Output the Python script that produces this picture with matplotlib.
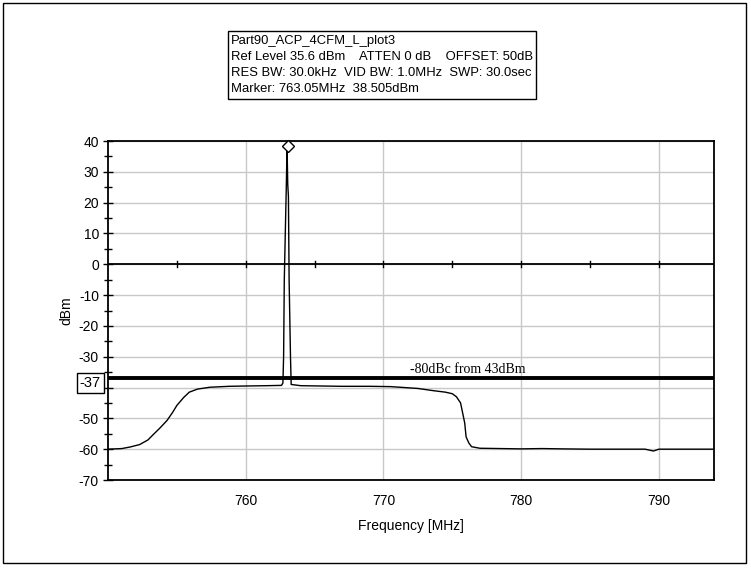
import matplotlib
matplotlib.use("Agg")
import matplotlib.pyplot as plt
from matplotlib.patches import Rectangle

# trace (MHz, dBm)
FREQ = [750.0, 751.0, 751.6, 752.3, 752.9, 753.3, 753.8, 754.3, 754.7, 755.0,
        755.5, 755.9, 756.5, 757.4, 758.8, 760.0, 761.5, 762.6, 762.7, 762.75,
        762.8, 762.95, 763.0, 763.05, 763.1, 763.15, 763.25, 763.3, 764.0, 765.5,
        767.0, 769.0, 770.5, 771.2, 772.5, 773.6, 774.5, 775.0, 775.3, 775.6,
        775.9, 776.0, 776.2, 776.4, 777.0, 778.5, 780.0, 781.5, 783.0, 785.0,
        787.0, 789.0, 789.6, 790.0, 792.0, 794.0]
LEVEL = [-60.0, -59.8, -59.3, -58.5, -57.0, -55.2, -53.0, -50.6, -48.0, -45.8,
         -43.2, -41.5, -40.5, -39.9, -39.6, -39.5, -39.4, -39.3, -38.5, -30.0,
         -5.0, 26.0, 38.5, 26.0, 22.0, -5.0, -30.0, -39.0, -39.4, -39.5,
         -39.6, -39.6, -39.7, -39.9, -40.3, -41.0, -41.5, -42.0, -43.0, -45.0,
         -51.5, -56.0, -58.0, -59.2, -59.7, -59.8, -59.9, -59.8, -59.9, -60.0,
         -60.0, -60.0, -60.6, -60.0, -60.0, -60.0]

MARKER_F, MARKER_DB = 763.05, 38.505
LIMIT_DB = -37
LIMIT_LABEL = "-80dBc from 43dBm"
INFO_LINES = [
    "Part90_ACP_4CFM_L_plot3",
    "Ref Level 35.6 dBm    ATTEN 0 dB    OFFSET: 50dB",
    "RES BW: 30.0kHz  VID BW: 1.0MHz  SWP: 30.0sec",
    "Marker: 763.05MHz  38.505dBm",
]
XTICKS = [760, 770, 780, 790]
YTICKS = list(range(-70, 41, 10))

plt.rcParams.update({
    "font.family": ["Liberation Sans", "DejaVu Sans"],
    "font.size": 10,
    "axes.unicode_minus": False,
})

fig = plt.figure(figsize=(7.51, 5.70), dpi=100)
ax = fig.add_axes([108 / 751, 90 / 570, 606 / 751, 339 / 570])

# outer frame around the whole window
fig.patches.append(Rectangle((0.004, 0.012), 0.99, 0.982, transform=fig.transFigure,
                             fill=False, ec="black", lw=1.0))

ax.set_xlim(750, 794)
ax.set_ylim(-70, 40)
ax.set_xticks(XTICKS)
ax.set_yticks(YTICKS)
ax.set_yticks(range(-65, 40, 10), minor=True)
ax.grid(True, color="#c8c8c8", lw=1.0)
ax.set_axisbelow(True)
ax.tick_params(axis="x", length=0, pad=10, labelsize=10)
ax.tick_params(axis="y", which="major", direction="inout", length=7, width=1, pad=3,
               labelsize=10)
ax.tick_params(axis="y", which="minor", direction="inout", length=6, width=1)
for s in ax.spines.values():
    s.set_linewidth(1.3)

# zero line with 5 MHz ticks
ax.axhline(0, color="black", lw=1.3, zorder=2)
for f in range(755, 794, 5):
    ax.plot([f, f], [-0.9, 0.9], color="black", lw=1.0, zorder=2)

# limit line
ax.axhline(LIMIT_DB, color="black", lw=2.8, zorder=3)
ax.text(780.3, LIMIT_DB + 0.9, LIMIT_LABEL, family=["Liberation Serif", "DejaVu Serif"],
        fontsize=10, ha="right", va="bottom")
ax.text(-0.012, LIMIT_DB - 1.5, "-37", transform=ax.get_yaxis_transform(), ha="right",
        va="center", fontsize=10.5, zorder=5,
        bbox=dict(boxstyle="square,pad=0.2", fc="white", ec="black", lw=1.0))

# trace + marker
ax.plot(FREQ, LEVEL, color="black", lw=1.0, zorder=4)
ax.plot([MARKER_F], [MARKER_DB], marker="D", ms=6, mfc="white", mec="black",
        mew=1.0, zorder=5, clip_on=False)

ax.set_xlabel("Frequency [MHz]", fontsize=10, labelpad=8)
ax.set_ylabel("dBm", fontsize=10, labelpad=4)

# info box
fig.text(231 / 751, 1 - 65 / 570, "\n".join(INFO_LINES), fontsize=9.4, ha="left",
         va="center", linespacing=1.48,
         bbox=dict(boxstyle="square,pad=0.25", fc="white", ec="black", lw=1.0))

fig.savefig("out.png", dpi=100)
